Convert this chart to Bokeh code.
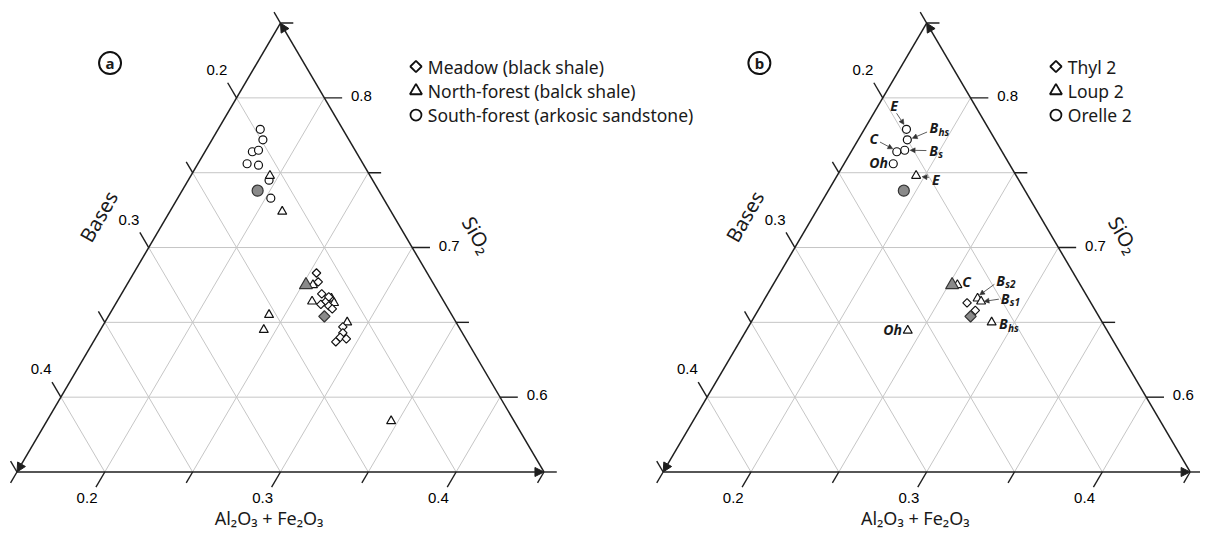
import numpy as np
from bokeh.plotting import figure
from bokeh.models import Range1d, Arrow, NormalHead, ColumnDataSource
from bokeh.core.properties import value
from bokeh.embed import file_html
from bokeh.resources import INLINE

# ------------------------------------------------------------------ data
# Compositions (fractions): SiO2 and Al2O3 + Fe2O3
# Panel (a)
meadow_sio2 = [0.683, 0.677, 0.669, 0.662, 0.664, 0.661, 0.659, 0.667, 0.647, 0.643, 0.640, 0.639, 0.637]
meadow_al = [0.254, 0.258, 0.264, 0.267, 0.269, 0.272, 0.275, 0.269, 0.287, 0.289, 0.289, 0.293, 0.288]
north_sio2 = [0.748, 0.724, 0.675, 0.664, 0.666, 0.663, 0.650, 0.655, 0.645, 0.584]
north_al = [0.195, 0.214, 0.256, 0.261, 0.271, 0.274, 0.288, 0.241, 0.243, 0.346]
south_sio2 = [0.779, 0.772, 0.764, 0.765, 0.756, 0.755, 0.745, 0.733]
south_al = [0.174, 0.179, 0.177, 0.180, 0.178, 0.185, 0.196, 0.203]

# Mean compositions (grey filled symbols, shown in both panels)
mean_meadow = (0.654, 0.273)
mean_north = (0.675, 0.252)
mean_south = (0.738, 0.193)

# Panel (b): profiles with horizons
thyl_sio2 = [0.663, 0.658]
thyl_al = [0.2665, 0.2737]
loup_horizon = ["E", "C", "Bs2", "Bs1", "Bhs", "Oh"]
loup_sio2 = [0.748, 0.675, 0.666, 0.664, 0.650, 0.6445]
loup_al = [0.195, 0.255, 0.271, 0.274, 0.287, 0.242]
orelle_horizon = ["E", "Bhs", "Bs", "C", "Oh"]
orelle_sio2 = [0.779, 0.772, 0.765, 0.764, 0.756]
orelle_al = [0.174, 0.178, 0.180, 0.176, 0.178]

legend_a = ["Meadow (black shale)", "North-forest (balck shale)", "South-forest (arkosic sandstone)"]
legend_b = ["Thyl 2", "Loup 2", "Orelle 2"]

# Axis ticks
al_ticks = [0.15, 0.20, 0.25, 0.30, 0.35, 0.40, 0.45]
al_labels = ["", "0.2", "", "0.3", "", "0.4", ""]
bases_ticks = [0.15, 0.20, 0.25, 0.30, 0.35, 0.40, 0.45]
bases_labels = ["", "0.2", "", "0.3", "", "0.4", ""]
sio2_ticks = [0.55, 0.60, 0.65, 0.70, 0.75, 0.80, 0.85]
sio2_labels = ["", "0.6", "", "0.7", "", "0.8", ""]

# ------------------------------------------------------------------ layout
S0, A0, SPAN = 0.55, 0.15, 0.30
L = 534.0
H = L * np.sqrt(3) / 2
BASE_Y = 61.3
W, HGT = 1200, 531
EDGE = "#1e1e1e"
GRID = "#c6c6c6"
TXT = "#1a1a1a"
SANS = "Noto Sans"
TICKF = "Liberation Sans"

# drawing units: a 1216 x 547 canvas (y upwards), fitted into the figure
p = figure(width=W, height=HGT, output_backend="svg", toolbar_location=None,
           x_range=Range1d(0, 1216), y_range=Range1d(0, 547),
           x_axis_type=None, y_axis_type=None, min_border=0)
p.grid.visible = False
p.outline_line_color = None
p.background_fill_color = "white"
p.border_fill_color = "white"


def fxy(ox, xb, h):
    xb = np.asarray(xb, dtype=float)
    h = np.asarray(h, dtype=float)
    return ox + L * (xb + 0.5 * h), BASE_Y + H * h


def tern(ox, sio2, al):
    h = (np.asarray(sio2, float) - S0) / SPAN
    xb = (np.asarray(al, float) - A0) / SPAN
    return fxy(ox, xb, h)


def text(xs, ys, ts, size, font=SANS, align="center", baseline="middle", angle=0.0, style="normal",
         color=TXT):
    src = ColumnDataSource(dict(x=list(xs), y=list(ys), t=list(ts)))
    p.text("x", "y", text="t", source=src, text_font=value(font), text_font_size=f"{size}px",
           text_align=align, text_baseline=baseline, angle=angle, text_color=color,
           text_font_style=style)


def draw_frame(ox):
    gx, gy = [], []
    for s in sio2_ticks[1:-1]:
        h = (s - S0) / SPAN
        x0, y0 = fxy(ox, 0, h)
        x1, y1 = fxy(ox, 1 - h, h)
        gx.append([x0, x1]); gy.append([y0, y1])
    for a in al_ticks[1:-1]:
        c = (a - A0) / SPAN
        x0, y0 = fxy(ox, c, 0)
        x1, y1 = fxy(ox, c, 1 - c)
        gx.append([x0, x1]); gy.append([y0, y1])
        x2, y2 = fxy(ox, 0, c)
        gx.append([x0, x2]); gy.append([y0, y2])
    p.multi_line(gx, gy, line_color=GRID, line_width=1)

    tx, ty = [], []
    bl = ([], [], [])
    ll = ([], [], [])
    rl = ([], [], [])
    s3 = np.sqrt(3) / 2
    for a, lab in zip(al_ticks, al_labels):
        c = (a - A0) / SPAN
        x0, y0 = fxy(ox, c, 0)
        ln = 18 if lab else 13
        x1, y1 = x0 - 0.5 * ln, y0 - s3 * ln
        tx.append([x0, x1]); ty.append([y0, y1])
        if lab:
            bl[0].append(x1 - 9); bl[1].append(y1 - 11); bl[2].append(lab)
    for b, lab in zip(bases_ticks, bases_labels):
        h = (1 - b - S0) / SPAN
        x0, y0 = fxy(ox, 0, h)
        ln = 18 if lab else 13
        x1, y1 = x0 - 0.5 * ln, y0 + s3 * ln
        tx.append([x0, x1]); ty.append([y0, y1])
        if lab:
            ll[0].append(x1 - 11); ll[1].append(y1 + 13); ll[2].append(lab)
    for s, lab in zip(sio2_ticks, sio2_labels):
        h = (s - S0) / SPAN
        x0, y0 = fxy(ox, 1 - h, h)
        ln = 18 if lab else 13
        x1, y1 = x0 + ln, y0
        tx.append([x0, x1]); ty.append([y0, y1])
        if lab:
            rl[0].append(x1 + 9); rl[1].append(y1 + 2); rl[2].append(lab)
    p.multi_line(tx, ty, line_color=EDGE, line_width=1.4)
    text(*bl, 15, font=TICKF, color="#000")
    text(*ll, 15, font=TICKF, color="#000")
    text(*rl, 15, font=TICKF, align="left", color="#000")

    BLc = fxy(ox, 0, 0); BRc = fxy(ox, 1, 0); APc = fxy(ox, 0, 1)
    for s_, e_ in [(BLc, BRc), (BRc, APc), (APc, BLc)]:
        p.add_layout(Arrow(end=NormalHead(size=9, fill_color=EDGE, line_color=EDGE, line_width=1),
                           x_start=float(s_[0]), y_start=float(s_[1]),
                           x_end=float(e_[0]), y_end=float(e_[1]),
                           line_color=EDGE, line_width=1.5))

    # axis titles
    text([ox + 82.8], [BASE_Y + 263.2], ["Bases"], 20, angle=np.pi / 3)
    text([ox + 466.3], [BASE_Y + 244.2], ["SiO\u2082"], 20, angle=-np.pi / 3)
    text([ox + 255.4], [BASE_Y - 47.0], ["Al\u2082O\u2083 + Fe\u2082O\u2083"], 18, baseline="alphabetic")


def pts(ox, sio2, al, marker, size, fill, lw=1.2, line="#111"):
    x, y = tern(ox, sio2, al)
    ang = np.pi / 4 if marker == "square" else 0.0
    src = ColumnDataSource(dict(x=x, y=y, sio2=list(sio2), al=list(al)))
    return p.scatter("x", "y", source=src, marker=marker, size=size, angle=ang,
                     fill_color=fill, line_color=line, line_width=lw)


def means(ox):
    pts(ox, [mean_south[0]], [mean_south[1]], "circle", 11, "#8a8a8a", 1.2, "#333")
    pts(ox, [mean_north[0]], [mean_north[1]], "triangle", 13, "#8a8a8a", 1.2, "#333")
    pts(ox, [mean_meadow[0]], [mean_meadow[1]], "square", 8, "#8a8a8a", 1.2, "#333")


def legend(x0, y0, labels):
    markers = [("square", 8), ("triangle", 12), ("circle", 11)]
    for i, (lab, (mk, sz)) in enumerate(zip(labels, markers)):
        yy = y0 - 25 * i
        ang = np.pi / 4 if mk == "square" else 0.0
        p.scatter([x0], [yy], marker=mk, size=sz, angle=ang, fill_color="white",
                  line_color="#111", line_width=1.8)
        text([x0 + 12], [yy], [lab], 17.5, align="left")


def circled(x, y, letter):
    p.scatter([x], [y], marker="circle", size=22, fill_color="white", line_color="#111", line_width=2)
    text([x], [y + 0.5], [letter], 15, style="bold")


def annotate(ox, sio2, al, horizons, spec):
    x, y = tern(ox, sio2, al)
    for xi, yi, hz in zip(x, y, horizons):
        dx, dy, align, arr = spec[hz]
        lx, ly = xi + dx, yi - dy
        if hz.startswith("B") and len(hz) > 1:
            text([lx], [ly], ["B"], 14, align="left", style="bold italic")
            text([lx + 9], [ly - 4], [hz[1:]], 10, align="left", style="bold italic")
        else:
            text([lx], [ly], [hz], 14, align=align, style="bold italic")
        if arr is not None:
            sx, sy, ex, ey = arr
            p.add_layout(Arrow(end=NormalHead(size=5, fill_color="#333", line_color="#333", line_width=0.5),
                               x_start=float(xi + sx), y_start=float(yi - sy),
                               x_end=float(xi + ex), y_end=float(yi - ey),
                               line_color="#333", line_width=0.8))


# ------------------------------------------------------------------ panel a
OXA, OXB = 16.7, 671.5
draw_frame(OXA)
pts(OXA, south_sio2, south_al, "circle", 8, "white")
pts(OXA, north_sio2, north_al, "triangle", 9, "white")
pts(OXA, meadow_sio2, meadow_al, "square", 6, "white")
means(OXA)
legend(421, 479, legend_a)
circled(111, 482.5, "a")

# ------------------------------------------------------------------ panel b
draw_frame(OXB)
pts(OXB, orelle_sio2, orelle_al, "circle", 8, "white")
pts(OXB, loup_sio2, loup_al, "triangle", 9, "white")
pts(OXB, thyl_sio2, thyl_al, "square", 6, "white")
means(OXB)
legend(1069.5, 479, legend_b)
circled(769, 482.5, "b")

orelle_spec = {
    "E": (-12.6, -24.4, "center", (-10, -16.5, -2.5, -5)),
    "Bhs": (22.5, -12.3, "left", (20, -8, 5, -1.5)),
    "Bs": (25, 0, "left", (22, 0.3, 5.5, 0)),
    "C": (-23.3, -14, "center", (-17, -10, -4, -3)),
    "Oh": (-5.5, -1, "right", None),
}
loup_spec = {
    "E": (16, 4, "left", (13, 1.7, 6, 1)),
    "C": (5, -4, "left", None),
    "Bs2": (19, -18.5, "left", (17, -14.5, 2, -3.5)),
    "Bs1": (20, -3.3, "left", (18, -2.3, 3, 0)),
    "Bhs": (7.5, 1.7, "left", None),
    "Oh": (-6, -0.7, "right", None),
}
annotate(OXB, orelle_sio2, orelle_al, orelle_horizon, orelle_spec)
annotate(OXB, loup_sio2, loup_al, loup_horizon, loup_spec)

open("out.html", "w").write(file_html(p, INLINE))
